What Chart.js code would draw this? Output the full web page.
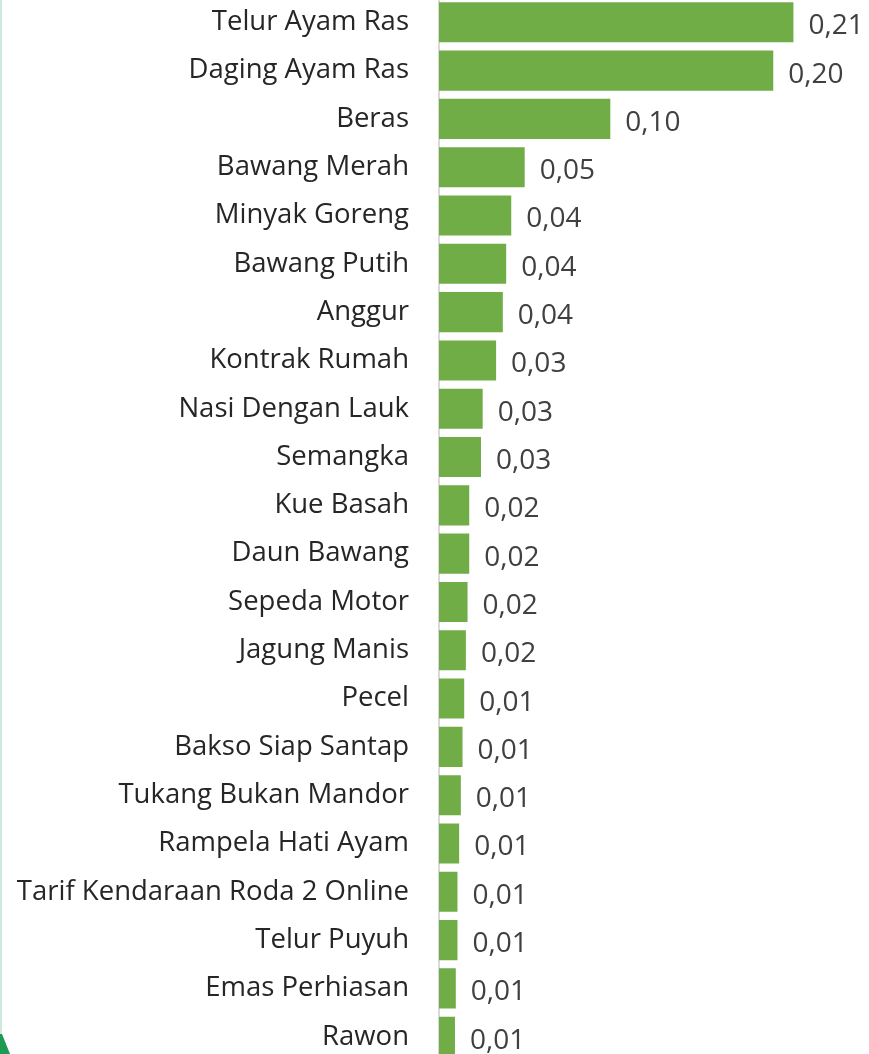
<!DOCTYPE html>
<html>
<head>
<meta charset="utf-8">
<script src="https://cdn.jsdelivr.net/npm/chart.js@4/dist/chart.umd.min.js"></script>
<style>
  html, body { margin: 0; padding: 0; background: #fff; overflow: hidden; }
  body { width: 869px; height: 1054px; position: relative; }
  .chart-wrap { position: absolute; left: 0; top: -2px; width: 869px; height: 1063px; }
  .edge { position: absolute; left: 0; top: 0; width: 2px; height: 1054px; background: #cdebdc; }
  .corner { position: absolute; left: 0; top: 1034px; width: 10px; height: 20px;
            background: #1f9a52; clip-path: polygon(0 0, 2px 0, 10px 100%, 0 100%); }
</style>
</head>
<body>
<div class="edge"></div>
<div class="corner"></div>
<div class="chart-wrap"><canvas id="barChart"></canvas></div>
<script>
const categories = [
  "Telur Ayam Ras", "Daging Ayam Ras", "Beras", "Bawang Merah", "Minyak Goreng",
  "Bawang Putih", "Anggur", "Kontrak Rumah", "Nasi Dengan Lauk", "Semangka",
  "Kue Basah", "Daun Bawang", "Sepeda Motor", "Jagung Manis", "Pecel",
  "Bakso Siap Santap", "Tukang Bukan Mandor", "Rampela Hati Ayam",
  "Tarif Kendaraan Roda 2 Online", "Telur Puyuh", "Emas Perhiasan", "Rawon"
];
const values = [
  0.211, 0.199, 0.102, 0.051, 0.043,
  0.040, 0.038, 0.034, 0.026, 0.025,
  0.018, 0.018, 0.017, 0.016, 0.015,
  0.014, 0.013, 0.012, 0.011, 0.011, 0.010, 0.0095
];

const FONT = "'Open Sans', sans-serif";
const FONT_SIZE = 27.5;

// value labels right of each bar
const valueLabels = {
  id: "valueLabels",
  afterDatasetsDraw(chart) {
    const ctx = chart.ctx;
    const meta = chart.getDatasetMeta(0);
    ctx.save();
    ctx.font = "28px " + FONT;
    ctx.fillStyle = "#404040";
    ctx.textAlign = "left";
    ctx.textBaseline = "middle";
    meta.data.forEach((bar, i) => {
      const txt = values[i].toFixed(2).replace(".", ",");
      ctx.fillText(txt, bar.x + 15, bar.y + 4);
    });
    ctx.restore();
  },
};

new Chart(document.getElementById("barChart"), {
  type: "bar",
  data: {
    labels: categories,
    datasets: [
      {
        data: values,
        backgroundColor: "#70ad47",
        borderWidth: 0,
        barPercentage: 0.83,
        categoryPercentage: 1,
      },
    ],
  },
  options: {
    indexAxis: "y",
    responsive: true,
    maintainAspectRatio: false,
    animation: false,
    layout: { padding: 0 },
    plugins: {
      legend: { display: false },
      tooltip: { enabled: false },
    },
    scales: {
      x: {
        display: false,
        min: 0,
        max: 0.256,
      },
      y: {
        afterFit(scale) {
          scale.width = 439;
        },
        // invisible tick marks push the labels away from the axis line
        grid: {
          display: true,
          drawOnChartArea: false,
          drawTicks: true,
          tickLength: 30,
          tickColor: "rgba(0,0,0,0)",
        },
        border: { display: true, color: "#d9d9d9", width: 2 },
        ticks: {
          padding: 0,
          color: "#262626",
          font: { family: FONT, size: FONT_SIZE, lineHeight: 0.01 },
          autoSkip: false,
        },
      },
    },
  },
  plugins: [valueLabels],
});
</script>
</body>
</html>
